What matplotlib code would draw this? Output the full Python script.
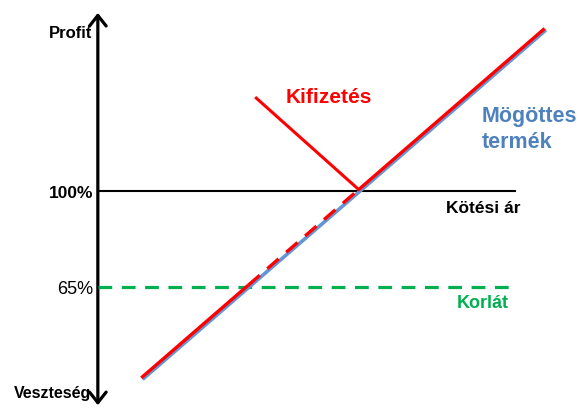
import matplotlib.pyplot as plt
from matplotlib.patches import FancyArrowPatch
from matplotlib.transforms import ScaledTranslation

plt.rcParams['font.family'] = ['Liberation Sans', 'DejaVu Sans']

# ertekek szazalekban (mögöttes termek ara = profit, y = x)
underlying_x = [31, 159]
underlying_y = [31, 159]

strike = 100
barrier = 65

# kifizetes: lent a mögöttes alatt, korlat es kotesi ar kozott szaggatott
payoff_low_x = [31, barrier]
payoff_mid_x = [barrier, strike]
payoff_high_x = [strike, 159]
payoff_leg_x = [67.5, strike]
payoff_leg_y = [133.5, strike]

axis_x = 16.8
axis_bottom = 20.5
axis_top = 166.3
line_end = 149.2

fig = plt.figure(figsize=(5.79, 4.11), dpi=100)
ax = fig.add_axes([0, 0, 1, 1])
ax.set_xlim(-14.25, 169.5)
ax.set_ylim(19.4, 170.0)
ax.axis('off')

red = '#FF0000'
blue = '#6495D4'
green = '#00B050'

# Fuggoleges tengely nyilakkal
arrow = FancyArrowPatch((axis_x, axis_bottom), (axis_x, axis_top),
                        arrowstyle='<->,head_length=0.38,head_width=0.3',
                        mutation_scale=20, lw=2.3, color='black')
ax.add_patch(arrow)

# Kotesi ar es korlat
ax.plot([axis_x, line_end], [strike, strike], color='black', lw=1.5)
ax.plot([axis_x, line_end], [barrier, barrier], color=green, lw=2.3,
        dashes=(4.3, 3.0))

# Mögöttes termek
ax.plot(underlying_x, underlying_y, color=blue, lw=2.6, solid_capstyle='butt')

# Kifizetes (kicsit eltolva, hogy a kek latszodjon)
off = ax.transData + ScaledTranslation(-1.3 / 100, 1.5 / 100, fig.dpi_scale_trans)
ax.plot(payoff_low_x, payoff_low_x, color=red, lw=2.4, transform=off,
        solid_capstyle='butt')
ax.plot(payoff_mid_x, payoff_mid_x, color=red, lw=2.4, transform=off,
        dashes=(4.5, 3.0))
ax.plot(payoff_high_x, payoff_high_x, color=red, lw=2.4, transform=off,
        solid_capstyle='butt')
ax.plot(payoff_leg_x, payoff_leg_y, color=red, lw=2.2, transform=off)

# Feliratok
ax.text(14.9, 156.1, 'Profit', ha='right', va='baseline', fontsize=12,
        fontweight='bold')
ax.text(15.3, 99, '100%', ha='right', va='center', fontsize=12.5,
        fontweight='bold')
ax.text(15.3, 64.1, '65%', ha='right', va='center', fontsize=13)
ax.text(14.6, 24.1, 'Veszteség', ha='right', va='baseline', fontsize=11.5,
        fontweight='bold')
ax.text(76.5, 132.2, 'Kifizetés', ha='left', va='baseline', fontsize=15,
        fontweight='bold', color=red)
ax.text(138.7, 125.3, 'Mögöttes', ha='left', va='baseline', fontsize=15.5,
        fontweight='bold', color='#4F81BD')
ax.text(138.7, 115.8, 'termék', ha='left', va='baseline', fontsize=15.5,
        fontweight='bold', color='#4F81BD')
ax.text(127.3, 91.9, 'Kötési ár', ha='left', va='baseline', fontsize=12.5,
        fontweight='bold')
ax.text(130.8, 57.1, 'Korlát', ha='left', va='baseline', fontsize=13,
        fontweight='bold', color=green)

fig.savefig('out.png', dpi=100)
